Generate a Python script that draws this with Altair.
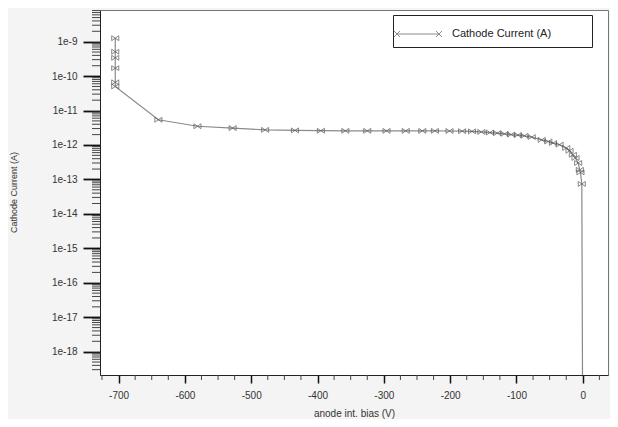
import altair as alt
import pandas as pd
import math

# ---- data ----
bias = [-705, -705, -705, -705, -705, -705, -640, -581, -528, -479, -434, -395, -358,
        -325, -296, -267, -242, -223, -201, -182, -167, -153, -140, -129, -118, -108,
        -98, -88, -77, -62, -52, -45, -35, -25, -20, -15, -11, -7, -4.5, -3.5, -1.5, 0]
current = [1.26e-9, 5.1e-10, 3.4e-10, 1.7e-10, 6.6e-11, 5.0e-11, 5.4e-12, 3.5e-12, 3.1e-12,
           2.75e-12, 2.65e-12, 2.6e-12, 2.58e-12, 2.58e-12, 2.57e-12, 2.57e-12, 2.57e-12,
           2.57e-12, 2.55e-12, 2.52e-12, 2.48e-12, 2.4e-12, 2.3e-12, 2.21e-12, 2.11e-12,
           2.01e-12, 1.94e-12, 1.85e-12, 1.70e-12, 1.41e-12, 1.26e-12, 1.14e-12, 1.02e-12,
           8.2e-13, 6.8e-13, 5.2e-13, 4.2e-13, 3.0e-13, 1.9e-13, 1.6e-13, 7.4e-14, 1e-21]
series_name = "Cathode Current (A)"

y_major = [1e-18, 1e-17, 1e-16, 1e-15, 1e-14, 1e-13, 1e-12, 1e-11, 1e-10, 1e-9]
x_major = [-700, -600, -500, -400, -300, -200, -100, 0]
x_minor = [-725, -675, -650, -625, -575, -550, -525, -475, -450, -425, -375, -350, -325,
           -275, -250, -225, -175, -150, -125, -75, -50, -25, 25]
y_dom = [2.1e-19, 8.3e-9]
x_dom = [-728, 38]

y_minor = []
for e in range(-19, -8):
    for k in range(2, 10):
        v = k * 10.0 ** e
        if y_dom[0] <= v <= y_dom[1]:
            y_minor.append(v)

df = pd.DataFrame({"bias": bias, "current": current, "order": list(range(len(bias))),
                   "series": [series_name] * len(bias)})
df_pts = df[df["current"] > 1e-19]
df_ymin = pd.DataFrame({"v": y_minor})
df_xmin = pd.DataFrame({"v": x_minor})

W, H = 508, 365
FONT = "Liberation Sans"

xs = alt.Scale(domain=x_dom, nice=False, zero=False)
ys = alt.Scale(type="log", domain=y_dom, nice=False)

xaxis = alt.Axis(values=x_major, title="anode int. bias (V)", tickSize=8, tickWidth=1.5,
                 tickColor="#111", domainColor="#222", labelExpr="'' + datum.value",
                 labelPadding=7, labelFontSize=10, labelColor="#333", titleFontSize=10,
                 titleFontWeight="normal", titleColor="#333", titlePadding=8, grid=False,
                 labelFont=FONT, titleFont=FONT)
yaxis = alt.Axis(values=y_major, title="Cathode Current (A)", tickSize=17, tickWidth=1.8,
                 tickColor="#111", domainColor="#222",
                 labelExpr="'1e' + round(log(datum.value) / LN10)",
                 labelPadding=6, labelFontSize=10, labelColor="#333", titleFontSize=9,
                 titleFontWeight="normal", titleColor="#333", grid=False,
                 titleX=-87, titleY=182, titleAngle=270, titleAlign="center",
                 titleBaseline="middle", labelFont=FONT, titleFont=FONT)

legend_path = ("M-2,0L2,0M-2.28,-0.28L-1.72,0.28M-2.28,0.28L-1.72,-0.28"
               "M1.72,-0.28L2.28,0.28M1.72,0.28L2.28,-0.28")
pad_spaces = "\u2800" * 4

line = alt.Chart(df).mark_line(clip=True, strokeWidth=1.2).encode(
    x=alt.X("bias:Q", scale=xs, axis=xaxis),
    y=alt.Y("current:Q", scale=ys, axis=yaxis),
    order="order:Q",
    color=alt.Color("series:N", scale=alt.Scale(range=["#8a8a8a"]),
                    legend=alt.Legend(title=None, orient="none", legendX=293, legendY=5,
                                      symbolType=legend_path, symbolSize=441,
                                      symbolOffset=6,
                                      symbolStrokeColor="#666", symbolFillColor="transparent",
                                      symbolStrokeWidth=1, labelFontSize=11, labelFont=FONT,
                                      labelColor="#222", labelOffset=23, labelLimit=400,
                                      labelExpr="datum.label + '" + pad_spaces + "'",
                                      fillColor="white", strokeColor="#222", padding=8,
                                      cornerRadius=0)),
)

marker = "M-1,-0.7L1,0.7M-1,0.7L1,-0.7M-1,-0.7L-1,0.7M1,-0.7L1,0.7"
pts = alt.Chart(df_pts).mark_point(clip=True, shape=marker, size=50, filled=False,
                                   strokeWidth=1, color="#555").encode(
    x=alt.X("bias:Q", scale=xs),
    y=alt.Y("current:Q", scale=ys),
)

ymin = alt.Chart(df_ymin).mark_rule(color="#444", strokeWidth=1).encode(
    y=alt.Y("v:Q", scale=ys),
    x=alt.value(-8), x2=alt.value(0),
)
xmin = alt.Chart(df_xmin).mark_rule(color="#444", strokeWidth=1).encode(
    x=alt.X("v:Q", scale=xs),
    y=alt.value(H), y2=alt.value(H + 5),
)

chart = alt.layer(line, pts, ymin, xmin).properties(
    width=W, height=H,
    autosize=alt.AutoSizeParams(type="none"),
    padding={"left": 92, "top": 2, "right": 2, "bottom": 44},
    background="#f4f4f4",
).configure_view(fill="white", stroke="#777", strokeWidth=1)

chart.save("out.html", embed_options={"renderer": "svg", "actions": False})
